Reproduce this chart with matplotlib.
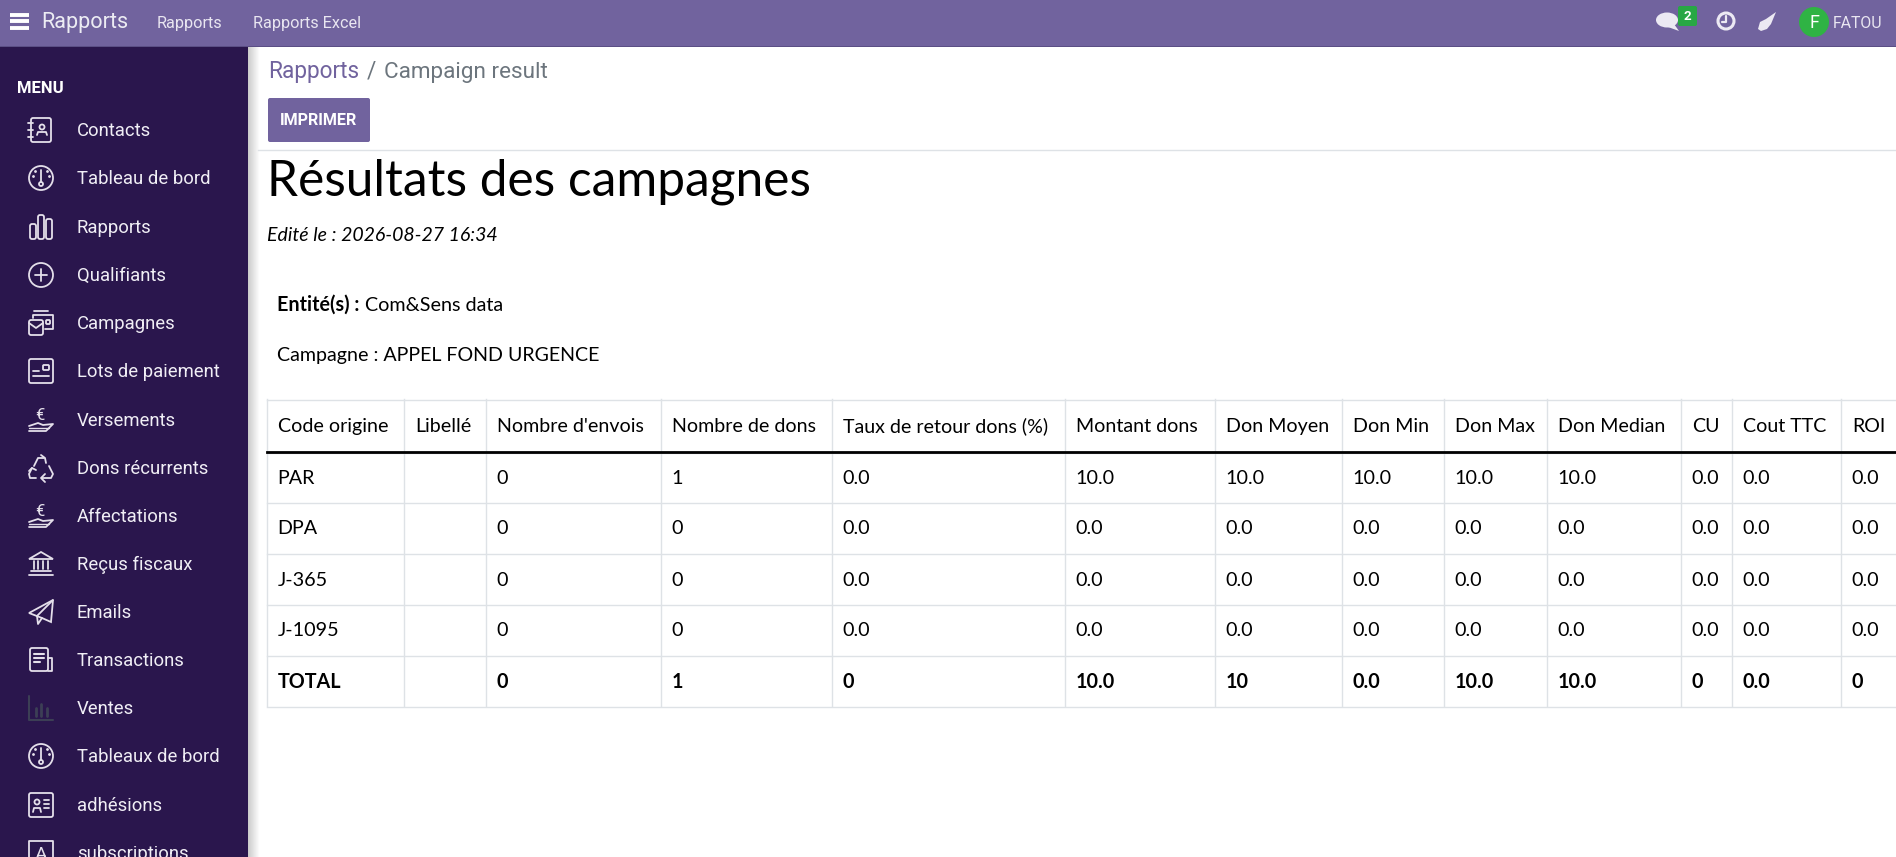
import matplotlib
matplotlib.use("Agg")
import matplotlib.pyplot as plt
from matplotlib.patches import Rectangle, Circle, FancyBboxPatch, Polygon, Ellipse

W, H = 1896, 857

PURPLE = '#71639e'
SIDE = '#2a164d'
ICON = '#e4dfea'
GRID = '#dee2e6'

menu_items = ['Contacts', 'Tableau de bord', 'Rapports', 'Qualifiants', 'Campagnes',
              'Lots de paiement', 'Versements', 'Dons récurrents', 'Affectations',
              'Reçus fiscaux', 'Emails', 'Transactions', 'Ventes', 'Tableaux de bord',
              'adhésions', 'subscriptions']
menu_y = [130, 178, 227, 275, 323, 371, 420, 468, 516, 564, 612, 660, 708, 756, 805, 853]
menu_icons = ['book', 'gauge', 'bars', 'plus', 'mail', 'card', 'euro', 'recycle', 'euro',
              'bank', 'plane', 'doc', 'chart', 'gauge', 'idcard', 'a']

headers = ['Code origine', 'Libellé', "Nombre d'envois", 'Nombre de dons',
           'Taux de retour dons (%)', 'Montant dons', 'Don Moyen', 'Don Min', 'Don Max',
           'Don Median', 'CU', 'Cout TTC', 'ROI']
row_par = ['PAR', '', '0', '1', '0.0', '10.0', '10.0', '10.0', '10.0', '10.0', '0.0', '0.0', '0.0']
row_dpa = ['DPA', '', '0', '0', '0.0', '0.0', '0.0', '0.0', '0.0', '0.0', '0.0', '0.0', '0.0']
row_j365 = ['J-365', '', '0', '0', '0.0', '0.0', '0.0', '0.0', '0.0', '0.0', '0.0', '0.0', '0.0']
row_j1095 = ['J-1095', '', '0', '0', '0.0', '0.0', '0.0', '0.0', '0.0', '0.0', '0.0', '0.0', '0.0']
row_total = ['TOTAL', '', '0', '1', '0', '10.0', '10', '0.0', '10.0', '10.0', '0', '0.0', '0']

col_edges = [267, 404, 486, 661, 832, 1065, 1215, 1342, 1444, 1547, 1681, 1732, 1841]
row_edges = [399, 452, 502, 553, 604, 655, 706]

fig = plt.figure(figsize=(W / 100, H / 100), dpi=100)
ax = fig.add_axes([0, 0, 1, 1])
ax.set_xlim(0, W)
ax.set_ylim(H, 0)
ax.axis('off')


def line(xs, ys, c=ICON, lw=1.3):
    ax.plot(xs, ys, color=c, lw=lw, solid_capstyle='round', solid_joinstyle='round')


def box(x, y, w, h, c=ICON, lw=1.3, r=2):
    ax.add_patch(FancyBboxPatch((x + r, y + r), w - 2 * r, h - 2 * r, boxstyle='round,pad=%d' % r,
                                fc='none', ec=c, lw=lw))


def ring(x, y, r, c=ICON, lw=1.3):
    ax.add_patch(Circle((x, y), r, fc='none', ec=c, lw=lw))


def draw_icon(kind, x, y):
    if kind == 'book':
        box(x - 10, y - 12, 20, 24)
        ring(x + 1, y - 3, 2.5)
        line([x - 4, x - 3, x + 5, x + 6], [y + 5, y + 2, y + 2, y + 5])
        for dy in (-7, 0, 7):
            line([x - 13, x - 8], [y + dy, y + dy])
    elif kind == 'gauge':
        ring(x, y, 12)
        line([x, x], [y - 8, y + 4])
        ring(x, y + 6, 2)
        ax.plot([x - 8, x + 8, x - 6, x + 6], [y - 2, y - 2, y - 7, y - 7], '.', color=ICON, ms=2)
    elif kind == 'bars':
        box(x - 11, y - 3, 6, 15, r=2)
        box(x - 3, y - 12, 6, 24, r=2)
        box(x + 5, y - 8, 6, 20, r=2)
    elif kind == 'plus':
        ring(x, y, 12)
        line([x - 6, x + 6], [y, y])
        line([x, x], [y - 6, y + 6])
    elif kind == 'mail':
        box(x - 12, y - 3, 14, 15)
        line([x - 12, x - 5, x + 2], [y, y + 5, y])
        line([x - 8, x - 8, x + 12, x + 12, x + 4], [y - 5, y - 8, y - 8, y + 6, y + 6])
        line([x - 7, x + 7], [y - 12, y - 12])
        box(x + 5, y - 3, 4, 4, r=1)
    elif kind == 'card':
        box(x - 12, y - 12, 24, 24)
        line([x - 8, x - 2], [y, y])
        line([x - 8, x + 8], [y + 5, y + 5])
        box(x + 2, y - 6, 6, 5, r=1)
    elif kind == 'euro':
        ax.text(x - 1, y - 5, '€', color=ICON, fontsize=12, family='Roboto', ha='center', va='center')
        line([x - 12, x - 3, x + 2, x + 12, x + 5, x - 12],
             [y + 6, y + 3, y + 5, y + 4, y + 11, y + 11])
        line([x - 12, x + 8], [y + 8, y + 8], lw=1)
    elif kind == 'recycle':
        # three chasing arrows
        line([x - 7, x - 3, x + 3], [y - 2, y - 10, y - 10])
        line([x, x + 4, x + 5], [y - 13, y - 10, y - 5])
        line([x + 8, x + 12, x + 10, x + 1], [y - 2, y + 6, y + 10, y + 10])
        line([x + 4, x, x + 4], [y + 6, y + 10, y + 14])
        line([x - 5, x - 11, x - 12, x - 9], [y + 10, y + 10, y + 6, y])
        line([x - 12, x - 9, x - 5], [y + 3, y, y + 2])
    elif kind == 'bank':
        ax.add_patch(Polygon([(x - 12, y - 5), (x, y - 12), (x + 12, y - 5)], fc='none', ec=ICON, lw=1.3))
        for dx in (-7, -2.5, 2.5, 7):
            line([x + dx, x + dx], [y - 3, y + 5])
        line([x - 10, x + 10], [y + 7, y + 7])
        line([x - 12, x + 12], [y + 11, y + 11])
    elif kind == 'plane':
        ax.add_patch(Polygon([(x - 12, y + 1), (x + 12, y - 12), (x + 10, y + 10), (x + 1, y + 6)],
                             fc='none', ec=ICON, lw=1.3))
        line([x - 4, x - 3, x + 1], [y + 4, y + 12, y + 6])
        line([x - 4, x + 12], [y + 4, y - 12])
    elif kind == 'doc':
        box(x - 11, y - 12, 18, 23)
        line([x + 7, x + 11, x + 11, x + 7], [y - 2, y - 2, y + 11, y + 11])
        for dy, dw in ((-6, 10), (-2, 10), (2, 6)):
            line([x - 7, x - 7 + dw], [y + dy, y + dy], lw=1.5)
    elif kind == 'chart':
        c = '#3c3f55'
        line([x - 12, x - 12, x + 12], [y - 12, y + 12, y + 12], c=c, lw=1.5)
        for dx, top in ((-5, 0), (0, -4), (6, 0)):
            line([x + dx, x + dx], [y + top, y + 8], c=c, lw=2)
    elif kind == 'idcard':
        box(x - 12, y - 12, 24, 24)
        ring(x - 4, y - 3, 2.5)
        line([x - 8, x - 7, x - 1, x], [y + 7, y + 3, y + 3, y + 7])
        for dy in (-5, -1, 3):
            line([x + 3, x + 8], [y + dy, y + dy])
    elif kind == 'a':
        line([x - 12, x - 12, x + 12, x + 12], [y + 14, y - 12, y - 12, y + 14])
        ax.text(x, y + 2, 'A', color=ICON, fontsize=14, family='Roboto', ha='center', va='center')


def ui(x, y, s, size, c='white', family='Roboto', **kw):
    ax.text(x, y, s, color=c, fontsize=size, family=family, va='baseline', **kw)


# content shadow next to the sidebar
for i in range(12):
    ax.add_patch(Rectangle((248 + i, 46), 1, H - 46, fc=str(0.80 + i * 0.018), ec='none'))

# sidebar
ax.add_patch(Rectangle((0, 46), 248, H - 46, fc=SIDE, ec='none'))
ui(17, 93, 'MENU', 12, weight='bold')
for name, yy, kind in zip(menu_items, menu_y, menu_icons):
    draw_icon(kind, 41, yy)
    ui(77, yy + 6, name, 13.3, c='#f0eef5')

# top bar
ax.add_patch(Rectangle((0, 0), W, 46, fc=PURPLE, ec='none'))
ax.add_patch(Rectangle((0, 45.5), W, 1.2, fc='#5b4f85', ec='none', zorder=3))
for yy in (14.5, 21, 27.5):
    ax.plot([10, 29], [yy, yy], color='white', lw=2.8, solid_capstyle='butt')
ui(41, 28, 'Rapports', 15.6, c='#ececf3')
ui(157, 28, 'Rapports', 11.7, c='#e9e6f1')
ui(253, 28, 'Rapports Excel', 11.7, c='#e9e6f1')

# top right icons
ax.add_patch(Ellipse((1667, 20), 22, 15, fc='#ece9f3', ec='none'))
ax.add_patch(Polygon([(1674, 24), (1679, 31), (1668, 27)], fc='#ece9f3', ec='none'))
ax.add_patch(FancyBboxPatch((1680, 8), 15, 16, boxstyle='round,pad=2', fc='#28a745', ec='none'))
ui(1687.5, 20, '2', 9.5, ha='center', weight='bold')
ax.add_patch(Circle((1726, 21), 8, fc='none', ec='#ece9f3', lw=2.2))
line([1726, 1726, 1722], [16, 22, 22], c='#ece9f3', lw=1.6)
ax.add_patch(Polygon([(1758, 29), (1760, 22), (1766, 19), (1776, 12), (1771, 24), (1767, 29), (1761, 31)],
                     fc='#ece9f3', ec='none'))
ax.add_patch(Circle((1814, 22), 15, fc='#2fb344', ec='none'))
ui(1814, 28, 'F', 13, ha='center')
ui(1833, 28, 'FATOU', 11.4, c='#e9e6f1')

# breadcrumb and button
ui(268, 77.5, 'Rapports', 16.3, c=PURPLE)
ui(367, 77.5, '/', 16.3, c='#6c757d')
ui(384, 77.5, 'Campaign result', 16.2, c='#6c757d')
ax.add_patch(FancyBboxPatch((270, 100), 98, 40, boxstyle='round,pad=2', fc=PURPLE, ec='none'))
ui(319, 125, 'IMPRIMER', 11.6, ha='center', weight='bold')
ax.plot([258, W], [150, 150], color=GRID, lw=1)

# report heading
ui(267, 195, 'Résultats des campagnes', 35.7, c='black', family='Lato')
ui(267, 241, 'Edité le : 2026-08-27 16:34', 14.05, c='black', family='Lato', style='italic')
ui(277, 311, 'Entité(s) :', 14.2, c='black', family='Lato', weight='bold')
ui(365, 311, 'Com&Sens data', 14.2, c='black', family='Lato')
ui(277, 361, 'Campagne : APPEL FOND URGENCE', 14.15, c='black', family='Lato')

# table
for xe in col_edges:
    ax.plot([xe + 0.5, xe + 0.5], [row_edges[0], row_edges[-1]], color=GRID, lw=1)
for ye in row_edges:
    ax.plot([col_edges[0], W], [ye + 0.5, ye + 0.5], color=GRID, lw=1)
ax.plot([col_edges[0], W], [452, 452], color='black', lw=2)

for xe, label in zip(col_edges, headers):
    ui(xe + 11, 432, label, 14.1, c='black', family='Lato')
rows = [row_par, row_dpa, row_j365, row_j1095]
for ytop, ybot, row in zip(row_edges[1:], row_edges[2:], rows):
    for xe, val in zip(col_edges, row):
        ui(xe + 10.5, (ytop + ybot) / 2 + 7, val, 14.2, c='black', family='Lato')
for xe, val in zip(col_edges, row_total):
    ui(xe + 11, 687.5, val, 14.2, c='black', family='Lato', weight='bold')

fig.savefig('out.png', dpi=100)
